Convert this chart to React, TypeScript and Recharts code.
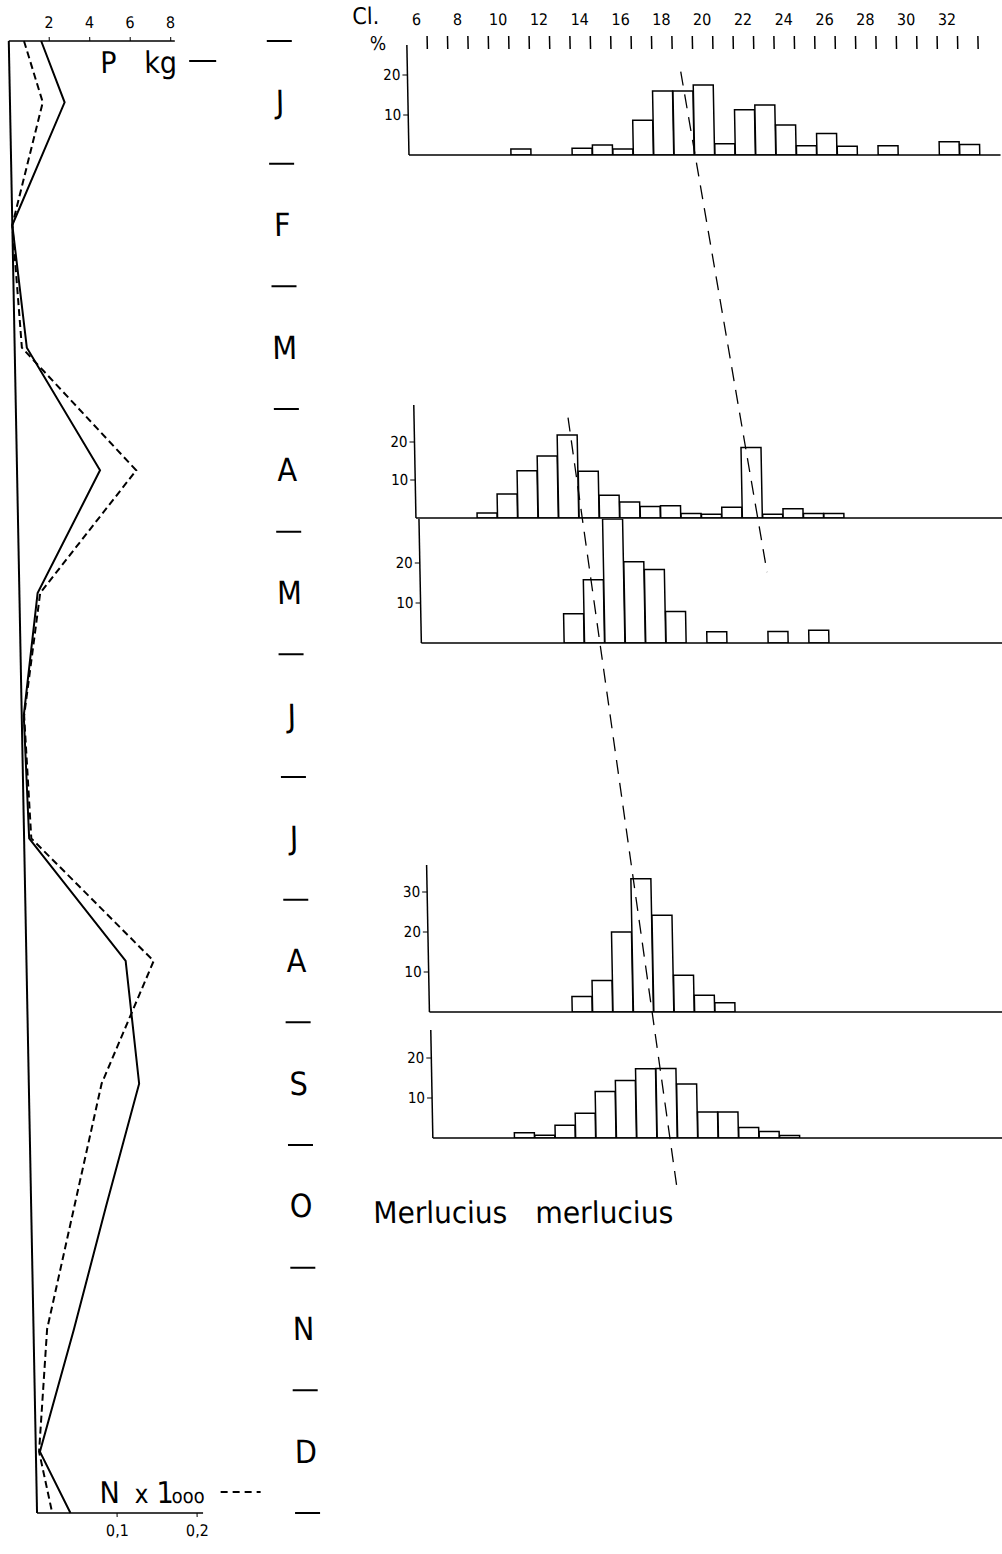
import React from 'react';
import { LineChart, Line, BarChart, Bar, XAxis, YAxis, ReferenceLine } from 'recharts';

// monthly catch: positions on the month scale (0 = start of Jan, 12 = end of Dec)
const MONTHS = ['J', 'F', 'M', 'A', 'M', 'J', 'J', 'A', 'S', 'O', 'N', 'D'];
const T_POS = [0, 0.5, 1.5, 2.5, 3.5, 4.5, 5.5, 6.5, 7.5, 8.5, 9.5, 10.5, 11.5, 12];
const P_KG = [1.6, 2.7, 0, 0.6, 4.1, 0.9, 0.1, 0.25, 4.9, 5.45, 3.7, 2.0, 0.2, 1.65];
const N_1000 = [0.019, 0.041, 0, 0.009, 0.149, 0.026, 0.003, 0.009, 0.159, 0.091, 0.054, 0.017, 0.004, 0.019];
const P_TICKS = [2, 4, 6, 8];
const N_TICKS = [0.1, 0.2];
const MONTH_TICKS = [0, 1, 2, 3, 4, 5, 6, 7, 8, 9, 10, 11, 12];

// length classes (cm) and % frequencies
const CLASSES = [6, 7, 8, 9, 10, 11, 12, 13, 14, 15, 16, 17, 18, 19, 20, 21, 22, 23, 24, 25, 26, 27, 28, 29, 30, 31, 32, 33, 34];
const JAN = [0, 0, 0, 0, 0, 1.5, 0, 0, 1.7, 2.5, 1.5, 8.7, 16, 16, 17.5, 2.8, 11.3, 12.5, 7.5, 2.3, 5.4, 2.2, 0, 2.3, 0, 0, 3.3, 2.6, 0];
const APR = [0, 0, 0, 1.3, 6.3, 12.4, 16.3, 21.8, 12.3, 6, 4.2, 3, 3.2, 1.2, 1, 2.8, 18.5, 1, 2.4, 1.2, 1.2, 0, 0, 0, 0, 0, 0, 0, 0];
const MAY = [0, 0, 0, 0, 0, 0, 0, 7.3, 15.8, 31, 20.3, 18.4, 7.9, 0, 2.8, 0, 0, 2.9, 0, 3.2, 0, 0, 0, 0, 0, 0, 0, 0, 0];
const AUG = [0, 0, 0, 0, 0, 0, 0, 3.9, 7.9, 20, 33.3, 24.2, 9.2, 4.2, 2.3, 0, 0, 0, 0, 0, 0, 0, 0, 0, 0, 0, 0, 0, 0];
const SEP = [0, 0, 0, 0, 1.3, 0.7, 3.2, 6.2, 11.6, 14.4, 17.3, 17.4, 13.5, 6.5, 6.5, 2.6, 1.6, 0.6, 0, 0, 0, 0, 0, 0, 0, 0, 0, 0, 0];

// modal progression (t on month scale, cls on class scale)
const MODE_A = [{ t: 0.25, cls: 19.4 }, { t: 4.33, cls: 23.16 }];
const MODE_B = [{ t: 3.07, cls: 13.55 }, { t: 9.37, cls: 18.18 }];

const FONT = "'DejaVu Sans Condensed', 'DejaVu Sans', sans-serif";
const BIN = 20.4;
const PLOT_W = CLASSES.length * BIN;

const lineData = T_POS.map((t, i) => ({ t, p: P_KG[i], n: N_1000[i] }));

const MonthTick = (props: any) => {
  const { x, y, payload } = props;
  const step = 122.67;
  return (
    <g>
      <line x1={x + 92} x2={x + 117} y1={y} y2={y} stroke="#000" strokeWidth={2} />
      {payload.value < 12 && (
        <text x={x + 104} y={y + step / 2} textAnchor="middle" dominantBaseline="central" fontSize={32} fill="#000">
          {MONTHS[payload.value]}
        </text>
      )}
    </g>
  );
};

const ClassTick = (props: any) => {
  const { x, y, payload } = props;
  const v = payload.value;
  return (
    <g>
      {v !== 6 && <line x1={x - BIN / 2} x2={x - BIN / 2} y1={y - 9} y2={y + 4} stroke="#000" strokeWidth={1.5} />}
      {v % 2 === 0 && v <= 32 && (
        <text x={x} y={y - 20} textAnchor="middle" fontSize={16} fill="#000">{v}</text>
      )}
    </g>
  );
};

const HISTS = [
  { key: 'jan', values: JAN, left: 406, top: 45, base: 155, max: 27.5, ticks: [10, 20], classRow: true },
  { key: 'apr', values: APR, left: 406, top: 405, base: 518, max: 29.7, ticks: [10, 20], classRow: false },
  { key: 'may', values: MAY, left: 409, top: 519, base: 643, max: 31, ticks: [10, 20], classRow: false },
  { key: 'aug', values: AUG, left: 410, top: 865, base: 1012, max: 36.75, ticks: [10, 20, 30], classRow: false },
  { key: 'sep', values: SEP, left: 411, top: 1030, base: 1138, max: 27, ticks: [10, 20], classRow: false },
];

const Histogram = ({ h }: { h: typeof HISTS[number] }) => {
  const rows = CLASSES.map((c, i) => ({ cls: c, pct: h.values[i] || null }));
  const topH = h.classRow ? h.top : 0;
  const chartTop = h.classRow ? 0 : h.top;
  const height = h.base - h.top + topH + 2;
  return (
    <div style={{ position: 'absolute', left: h.left - 40, top: chartTop }}>
      <BarChart width={40 + PLOT_W} height={height} data={rows} barCategoryGap={0} barGap={0}
        margin={{ top: 0, right: 0, bottom: 0, left: 0 }}>
        <XAxis dataKey="cls" type="category" tick={false} tickLine={false} height={2}
          axisLine={{ stroke: '#000', strokeWidth: 1.5 }} />
        {h.classRow && (
          <XAxis xAxisId="cl" dataKey="cls" type="category" orientation="top" height={topH}
            axisLine={false} tickLine={false} tickSize={0} tickMargin={0} interval={0} tick={<ClassTick />} />
        )}
        <YAxis type="number" domain={[0, h.max]} ticks={h.ticks} width={40} allowDataOverflow
          tickSize={5} tick={{ fontSize: 15, fill: '#000' }}
          axisLine={{ stroke: '#000', strokeWidth: 1.5 }} tickLine={{ stroke: '#000' }} />
        <Bar dataKey="pct" fill="#fff" stroke="#000" strokeWidth={1.5} isAnimationActive={false} />
      </BarChart>
    </div>
  );
};

export default function App() {
  return (
    <div style={{ position: 'absolute', left: 0, top: 0, width: 1002, height: 1554, background: '#fff',
      fontFamily: FONT, transform: 'skewX(1.1deg)', transformOrigin: '0 0' }}>
      <div style={{ position: 'absolute', left: 0, top: 0 }}>
        <LineChart layout="vertical" width={330} height={1554} data={lineData}
          margin={{ top: 21, right: 6, bottom: 11, left: 8 }}>
          <XAxis xAxisId="p" type="number" orientation="top" domain={[0, 8.2]} ticks={P_TICKS} height={20}
            tickSize={4} tickMargin={9} tick={{ fontSize: 16, fill: '#000' }}
            axisLine={{ stroke: '#000', strokeWidth: 1.5 }} tickLine={{ stroke: '#000' }} />
          <XAxis xAxisId="n" type="number" orientation="bottom" domain={[0, 0.2075]} ticks={N_TICKS} height={30}
            tickSize={4} tickMargin={8} tickFormatter={(v: number) => String(v).replace('.', ',')}
            tick={{ fontSize: 16, fill: '#000' }}
            axisLine={{ stroke: '#000', strokeWidth: 1.5 }} tickLine={{ stroke: '#000' }} />
          <YAxis yAxisId="t" type="number" dataKey="t" domain={[0, 12]} hide />
          <YAxis yAxisId="m" type="number" dataKey="t" domain={[0, 12]} orientation="right" width={150}
            ticks={MONTH_TICKS} interval={0} axisLine={false} tickLine={false} tickSize={0} tickMargin={0}
            tick={<MonthTick />} />
          <ReferenceLine xAxisId="p" yAxisId="t" x={0} stroke="#000" strokeWidth={2} />
          <Line xAxisId="p" yAxisId="t" dataKey="p" stroke="#000" strokeWidth={2} dot={false}
            isAnimationActive={false} />
          <Line xAxisId="n" yAxisId="t" dataKey="n" stroke="#000" strokeWidth={2} strokeDasharray="7 4"
            dot={false} isAnimationActive={false} />
        </LineChart>
      </div>

      {HISTS.map((h) => <Histogram key={h.key} h={h} />)}

      <div style={{ position: 'absolute', left: 0, top: 0, pointerEvents: 'none' }}>
        <LineChart layout="vertical" width={1002} height={1554}
          margin={{ top: 41, bottom: 41, left: 406, right: 1002 - 406 - PLOT_W }}>
          <XAxis type="number" domain={[6, 35]} hide />
          <YAxis type="number" dataKey="t" domain={[0, 12]} hide />
          <Line data={MODE_A} dataKey="cls" stroke="#000" strokeWidth={1.3} strokeDasharray="14 9"
            dot={false} isAnimationActive={false} />
          <Line data={MODE_B} dataKey="cls" stroke="#000" strokeWidth={1.3} strokeDasharray="14 9"
            dot={false} isAnimationActive={false} />
        </LineChart>
      </div>

      <svg width={1002} height={1554} style={{ position: 'absolute', left: 0, top: 0, pointerEvents: 'none' }}>
        <text x={99} y={73} fontSize={30}>P</text>
        <text x={143} y={73} fontSize={30}>kg</text>
        <line x1={188} x2={215} y1={61} y2={61} stroke="#000" strokeWidth={2} />
        <text x={71} y={1503} fontSize={30}>N</text>
        <text x={106} y={1503} fontSize={26}>x</text>
        <text x={128} y={1503} fontSize={30}>1</text>
        <text x={143} y={1503} fontSize={20}>ooo</text>
        <line x1={192} x2={232} y1={1492} y2={1492} stroke="#000" strokeWidth={2} strokeDasharray="7 5" />
        <text x={352} y={24} fontSize={23}>Cl.</text>
        <text x={369} y={50} fontSize={19}>%</text>
        <text x={350} y={1223} fontSize={30} textLength={134} lengthAdjust="spacingAndGlyphs">Merlucius</text>
        <text x={512} y={1223} fontSize={30} textLength={138} lengthAdjust="spacingAndGlyphs">merlucius</text>
      </svg>
    </div>
  );
}
